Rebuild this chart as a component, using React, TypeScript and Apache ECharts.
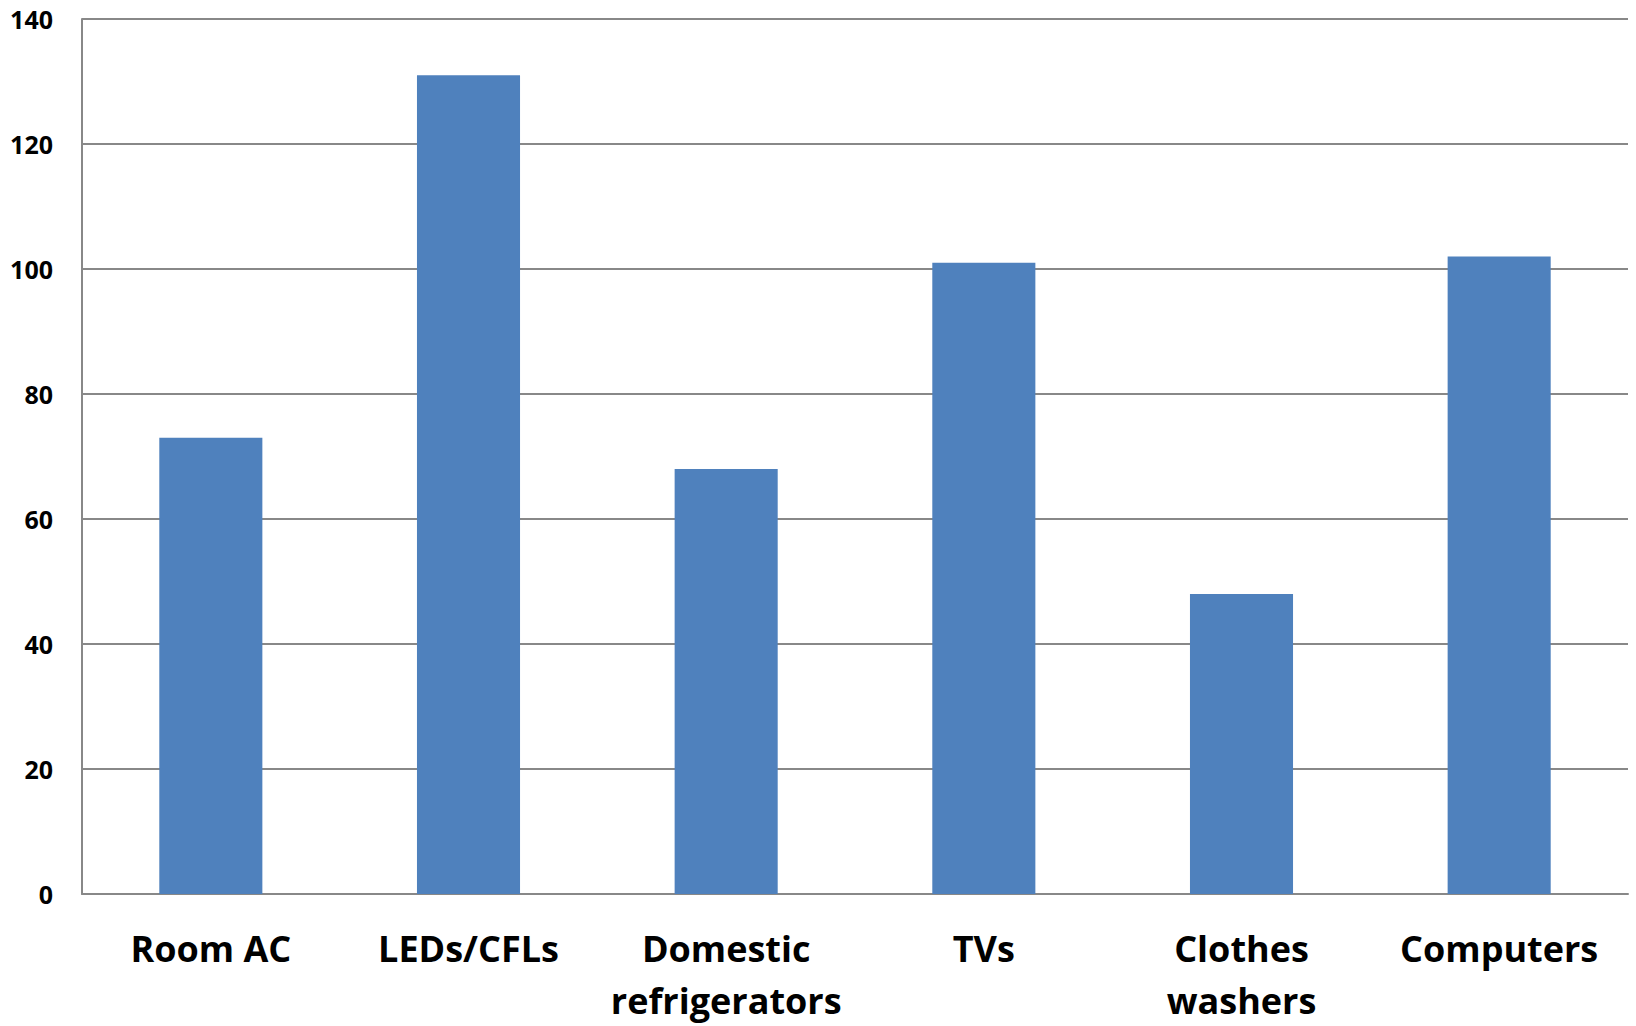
import React, { useEffect, useRef } from "react";
import * as echarts from "echarts";

const categories = [
  "Room AC",
  "LEDs/CFLs",
  "Domestic\nrefrigerators",
  "TVs",
  "Clothes\nwashers",
  "Computers",
];
const values = [73, 131, 68, 101, 48, 102];
const yTicks = [0, 20, 40, 60, 80, 100, 120, 140];

const FONT = "'Open Sans', 'Noto Sans', sans-serif";

export default function App() {
  const ref = useRef<HTMLDivElement>(null);

  useEffect(() => {
    if (!ref.current) return;
    const chart = echarts.init(ref.current, undefined, { renderer: "svg" });
    chart.setOption({
      animation: false,
      backgroundColor: "#ffffff",
      grid: { left: 82, right: 8, top: 19, bottom: 129, containLabel: false },
      xAxis: {
        type: "category",
        data: categories,
        axisLine: { show: true, lineStyle: { color: "#888888", width: 2 } },
        axisTick: { show: false },
        axisLabel: {
          interval: 0,
          margin: 28,
          color: "#000000",
          fontFamily: FONT,
          fontWeight: "bold",
          fontSize: 36,
          lineHeight: 52,
        },
      },
      yAxis: {
        type: "value",
        min: yTicks[0],
        max: yTicks[yTicks.length - 1],
        interval: 20,
        axisLine: { show: true, lineStyle: { color: "#888888", width: 2 } },
        axisTick: { show: false },
        splitLine: { show: true, lineStyle: { color: "#888888", width: 2 } },
        axisLabel: {
          margin: 29,
          color: "#000000",
          fontFamily: FONT,
          fontWeight: "bold",
          fontSize: 25,
        },
      },
      series: [
        {
          type: "bar",
          data: values,
          barWidth: "40%",
          itemStyle: { color: "#4F81BD" },
        },
      ],
    });
    return () => chart.dispose();
  }, []);

  return (
    <div
      ref={ref}
      style={{ position: "absolute", left: 0, top: 0, width: 1636, height: 1026, background: "#fff" }}
    />
  );
}
